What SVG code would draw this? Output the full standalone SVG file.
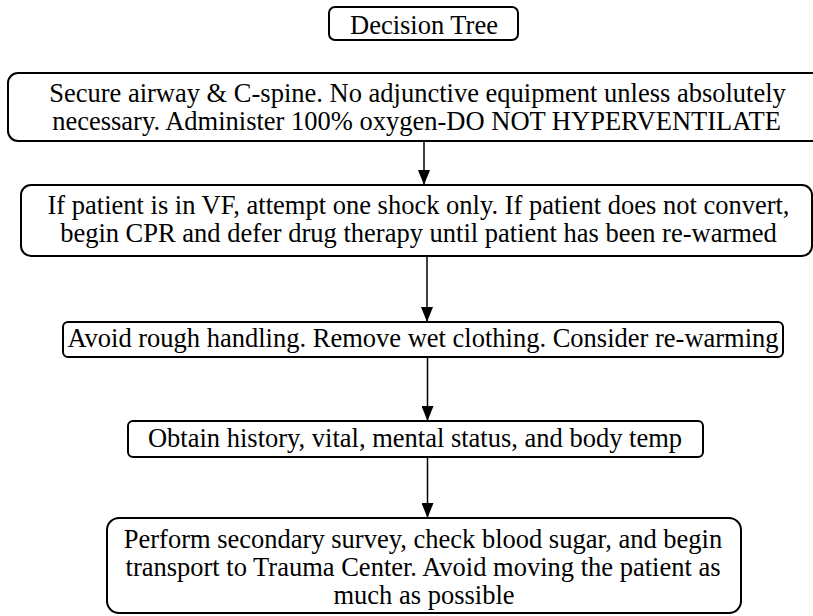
<svg xmlns="http://www.w3.org/2000/svg" width="813" height="616" viewBox="0 0 813 616">
  <style>
    .box { fill: #ffffff; stroke: #000000; stroke-width: 2; }
    .lbl { font-family: 'Liberation Serif', 'Times New Roman', serif; font-size: 26.5px; fill: #000000; text-anchor: middle; }
    .edge { stroke: #000000; stroke-width: 1.5; fill: none; marker-end: url(#arrow); }
  </style>
  <defs>
    <marker id="arrow" markerWidth="15" markerHeight="12" refX="15" refY="6" orient="auto" markerUnits="userSpaceOnUse">
      <path d="M0,0 L15,6 L0,12 Z" fill="#000000"/>
    </marker>
  </defs>
  <rect width="813" height="616" fill="#ffffff"/>

  <g id="connectors">
    <line class="edge" x1="424" y1="141" x2="424" y2="185"/>
    <line class="edge" x1="427" y1="256" x2="427" y2="322"/>
    <line class="edge" x1="427.5" y1="357" x2="427.5" y2="421"/>
    <line class="edge" x1="427.5" y1="457" x2="427.5" y2="518"/>
  </g>

  <g id="title">
    <rect class="box" x="329" y="7" width="189" height="33" rx="6"/>
    <text class="lbl" x="424" y="34">Decision Tree</text>
  </g>

  <g id="airway">
    <rect class="box" x="8" y="73" width="820" height="68" rx="10"/>
    <text class="lbl" x="417.5" y="102">Secure airway &amp; C-spine. No adjunctive equipment unless absolutely</text>
    <text class="lbl" x="416.5" y="130">necessary. Administer 100% oxygen-DO NOT HYPERVENTILATE</text>
  </g>

  <g id="shock">
    <rect class="box" x="21" y="185" width="791" height="71" rx="10"/>
    <text class="lbl" x="418.5" y="214">If patient is in VF, attempt one shock only. If patient does not convert,</text>
    <text class="lbl" x="418.5" y="242">begin CPR and defer drug therapy until patient has been re-warmed</text>
  </g>

  <g id="handling">
    <rect class="box" x="63" y="322" width="720" height="35" rx="5"/>
    <text class="lbl" x="423" y="347">Avoid rough handling. Remove wet clothing. Consider re-warming</text>
  </g>

  <g id="history">
    <rect class="box" x="128" y="421" width="575" height="36" rx="5"/>
    <text class="lbl" x="415" y="447">Obtain history, vital, mental status, and body temp</text>
  </g>

  <g id="survey">
    <rect class="box" x="107" y="518" width="634" height="95" rx="12"/>
    <text class="lbl" x="423" y="548">Perform secondary survey, check blood sugar, and begin</text>
    <text class="lbl" x="423" y="576">transport to Trauma Center. Avoid moving the patient as</text>
    <text class="lbl" x="424" y="604">much as possible</text>
  </g>
</svg>
